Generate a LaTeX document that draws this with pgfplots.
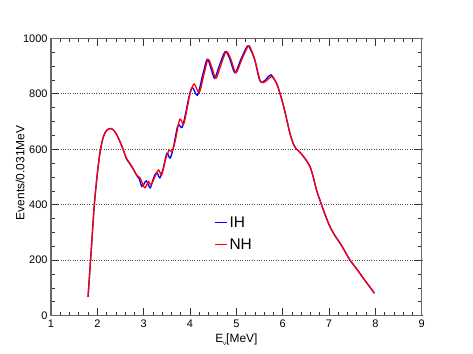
\documentclass[border=0pt]{standalone}
\usepackage{pgfplots}
\pgfplotsset{compat=1.18}
\usepackage{pgfplotstable}
\usepackage{fontspec}
\setmainfont{Liberation Sans}

\pgfplotstableread{
x y
1.80 68
1.87 240
1.93 390
1.98 480
2.03 555
2.07 600
2.13 645
2.20 668
2.29 675
2.36 667
2.42 652
2.49 627
2.56 598
2.63 567
2.70 550
2.78 528
2.85 507
2.92 497
2.97 478
3.03 461
3.10 483
3.16 472
3.24 500
3.32 525
3.39 508
3.47 562
3.55 597
3.61 592
3.68 630
3.78 708
3.86 690
3.93 741
4.00 800
4.09 835
4.20 805
4.30 870
4.39 924
4.47 895
4.56 856
4.66 900
4.78 952
4.88 925
4.99 876
5.12 925
5.26 972
5.33 955
5.40 922
5.51 850
5.58 840
5.67 850
5.76 862
5.87 838
5.94 802
6.02 755
6.09 705
6.16 655
6.22 624
6.28 604
6.35 592
6.43 578
6.50 562
6.59 537
6.66 500
6.73 453
6.84 399
6.93 358
7.02 321
7.13 288
7.24 261
7.35 230
7.45 201
7.60 168
7.74 135
7.87 106
7.98 81
}\nhdata

\pgfplotstableread{
x y
1.80 68
1.87 240
1.93 390
1.98 480
2.03 555
2.07 600
2.13 645
2.20 668
2.29 675
2.36 667
2.42 652
2.49 627
2.56 598
2.63 565
2.70 548
2.78 527
2.85 505
2.90 495
2.96 466
3.01 476
3.06 486
3.14 461
3.20 490
3.26 513
3.30 512
3.35 497
3.42 530
3.50 585
3.57 568
3.64 605
3.72 675
3.76 688
3.83 679
3.90 725
3.98 790
4.05 823
4.16 795
4.27 865
4.37 924
4.45 893
4.53 856
4.63 900
4.76 952
4.86 925
4.97 876
5.10 925
5.24 972
5.31 958
5.40 920
5.50 850
5.57 842
5.66 856
5.75 868
5.86 840
5.94 802
6.02 755
6.09 705
6.16 655
6.22 624
6.28 604
6.35 593
6.43 578
6.50 562
6.59 537
6.66 500
6.73 453
6.84 399
6.93 358
7.02 321
7.13 288
7.24 261
7.35 230
7.45 201
7.60 168
7.74 135
7.87 106
7.98 81
}\ihdata

\begin{document}
\begin{tikzpicture}
\path[use as bounding box] (-51bp,-38.3bp) rectangle (422bp,315.7bp);
\begin{axis}[
  at={(0,0)}, anchor=south west,
  scale only axis,
  width=370.7bp, height=277.4bp,
  xmin=1, xmax=9, ymin=0, ymax=1000,
  xtick={1,2,...,9}, ytick={0,200,...,1000},
  minor x tick num=4, minor y tick num=3,
  tick align=inside,
  major tick length=8bp, minor tick length=4bp,
  axis line style={draw=black!60, line width=1.3bp},
  every tick/.style={black!80, line width=0.7bp},
  ymajorgrids=true,
  grid style={black!70, dotted, line width=0.6bp},
  /pgf/number format/assume math mode=true,
  /pgf/number format/1000 sep={},
  tick label style={font=\fontsize{11}{12}\selectfont},
  xticklabel style={yshift=-1bp},
  yticklabel style={xshift=0bp},
  xlabel={E\raisebox{-0.3em}{\fontsize{6}{7}\selectfont ν}[MeV]},
  ylabel={Events/0.031MeV},
  every axis x label/.style={at={(axis description cs:0.5,-0.096)}, anchor=base, inner sep=0pt, font=\fontsize{12}{14}\selectfont},
  every axis y label/.style={at={(axis description cs:-0.072,0.515)}, rotate=90, anchor=base, inner sep=0pt, font=\fontsize{12}{14}\selectfont},
  legend style={at={(axis description cs:0.44,0.365)}, anchor=north west, draw=none, fill=none,
     font=\fontsize{15.5}{17}\selectfont, row sep=6bp, inner sep=0pt,
     /tikz/every even column/.append style={column sep=2bp}},
  legend cell align=left,
  legend image code/.code={\draw[#1, line width=1.3bp] (0bp,0bp) -- (12bp,0bp);},
  clip=true,
]
\addplot[blue, line width=1.3bp, smooth, tension=0.5] table[x=x,y=y]{\ihdata};
\addlegendentry{IH}
\addplot[red, line width=1.3bp, smooth, tension=0.5] table[x=x,y=y]{\nhdata};
\addlegendentry{NH}
\end{axis}
\end{tikzpicture}
\end{document}
